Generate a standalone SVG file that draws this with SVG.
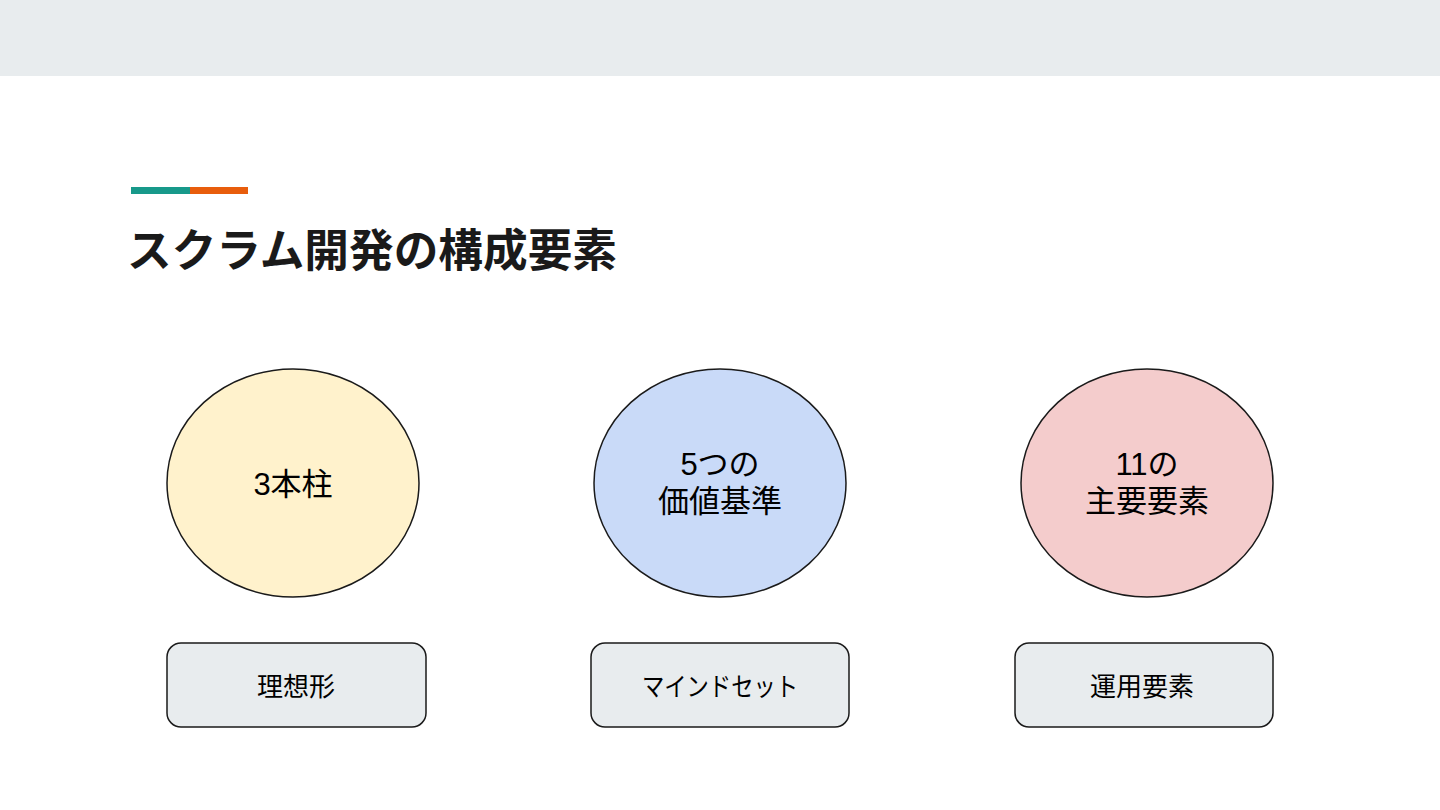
<svg xmlns="http://www.w3.org/2000/svg" width="1440" height="810" viewBox="0 0 1440 810">
<style>
.jp{font-family:"Liberation Sans","Noto Sans CJK JP",sans-serif;fill:#000}
.title{font-size:45px;font-weight:bold;fill:#1a1a1a}
.ct{font-size:31px;text-anchor:middle}
.bt{font-size:26px;text-anchor:middle}
.circ{stroke:#1a1a1a;stroke-width:1.5}
.box{fill:#e8ecee;stroke:#1a1a1a;stroke-width:1.5}
</style>
<rect x="0" y="0" width="1440" height="810" fill="#ffffff"/>
<rect x="0" y="0" width="1440" height="76" fill="#e8ecee"/>
<rect x="131" y="187" width="59" height="7" fill="#17998a"/>
<rect x="190" y="187" width="58" height="7" fill="#e85d0c"/>
<text class="jp title" x="127" y="267" textLength="490" lengthAdjust="spacingAndGlyphs">スクラム開発の構成要素</text>
<g id="node-pillars">
<ellipse class="circ" cx="293" cy="483" rx="126" ry="114" fill="#fff2cc"/>
<text class="jp ct" x="293" y="495">3本柱</text>
</g>
<g id="node-values">
<ellipse class="circ" cx="720" cy="483" rx="126" ry="114" fill="#c9daf8"/>
<text class="jp ct" x="720" y="475">5つの</text>
<text class="jp ct" x="720" y="512">価値基準</text>
</g>
<g id="node-elements">
<ellipse class="circ" cx="1147" cy="483" rx="126" ry="114" fill="#f4cccc"/>
<text class="jp ct" x="1147" y="475">11の</text>
<text class="jp ct" x="1147" y="512">主要要素</text>
</g>
<g id="box-ideal">
<rect class="box" x="167" y="643" width="259" height="84" rx="14"/>
<text class="jp bt" x="296" y="696">理想形</text>
</g>
<g id="box-mindset">
<rect class="box" x="591" y="643" width="258" height="84" rx="14"/>
<text class="jp bt" x="720" y="696" textLength="156" lengthAdjust="spacingAndGlyphs">マインドセット</text>
</g>
<g id="box-ops">
<rect class="box" x="1015" y="643" width="258" height="84" rx="14"/>
<text class="jp bt" x="1142" y="696">運用要素</text>
</g>
<g id="connectors"></g>
</svg>
